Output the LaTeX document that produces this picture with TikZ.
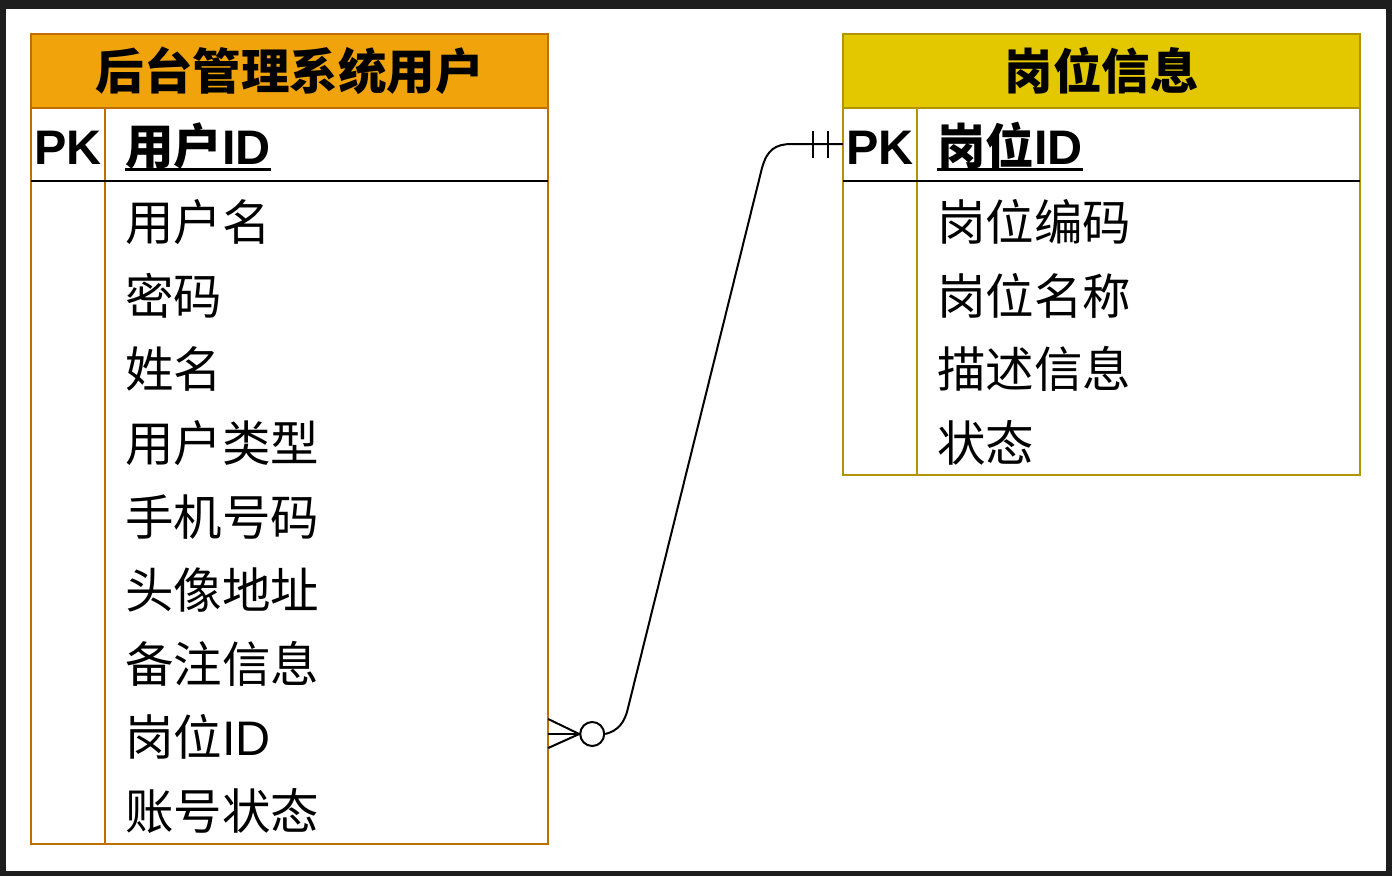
\documentclass[tikz,border=0pt]{standalone}
\usepackage{fontspec}
\setmainfont{Noto Sans CJK SC}
\newfontfamily\lat{Liberation Sans}
\usetikzlibrary{calc}
\definecolor{framec}{HTML}{1E1E1E}
\definecolor{orF}{HTML}{F0A30A}
\definecolor{orD}{HTML}{BD7000}
\definecolor{yeF}{HTML}{E3C800}
\definecolor{yeD}{HTML}{B09500}
\newcommand\myul[1]{\setbox0\hbox{#1}\rlap{\rule[-7pt]{\wd0}{3pt}}\box0}
\begin{document}
\begin{tikzpicture}[x=1pt,y=-1pt,
  hdr/.style={draw, line width=2pt, minimum width=517pt, minimum height=74pt, inner sep=0pt, font=\fontsize{48.5}{52}\selectfont\bfseries},
  body/.style={draw, line width=2pt, minimum width=517pt, inner sep=0pt},
  pk/.style={anchor=west, inner sep=0pt, font=\fontsize{48.5}{52}\selectfont\bfseries},
  fld/.style={anchor=west, inner sep=0pt, font=\fontsize{48.5}{52}\selectfont},
  rowbox/.style={minimum width=517pt, minimum height=73.6pt, inner sep=0pt},
  conn/.style={line width=2pt, black}]
\useasboundingbox (0,0) rectangle (1392,876);
\fill[framec] (0,0) rectangle (1392,876);
\fill[white] (6,9) rectangle (1386,871);
% left table
\node[hdr, fill=orF, draw=orD] (LH) at (289.5,71) {后台管理系统用户};
\node[body, draw=orD, minimum height=736pt] (LB) at (289.5,476) {};
\draw[orD, line width=2pt] (105,108) -- (105,844);
\draw[black, line width=2pt] (31,181) -- (548,181);
\node[pk, anchor=base west] (LPK) at (34,164) {\lat PK};
\node[pk, anchor=base west] (LF0) at (125,164) {\myul{用户{\lat ID}}};
\node[fld] (LF1) at (125,222) {用户名};
\node[fld] (LF2) at (125,296) {密码};
\node[fld] (LF3) at (125,369) {姓名};
\node[fld] (LF4) at (125,443) {用户类型};
\node[fld] (LF5) at (125,517) {手机号码};
\node[fld] (LF6) at (125,590) {头像地址};
\node[fld] (LF7) at (125,664) {备注信息};
\node[fld] (LF8) at (125,737) {岗位{\lat ID}};
\node[fld] (LF9) at (125,811) {账号状态};
\node[rowbox] (LR8) at (289.5,734) {};
% right table
\node[hdr, fill=yeF, draw=yeD] (RH) at (1101.5,71) {岗位信息};
\node[body, draw=yeD, minimum height=367pt] (RB) at (1101.5,291.5) {};
\draw[yeD, line width=2pt] (917,108) -- (917,475);
\draw[black, line width=2pt] (843,181) -- (1360,181);
\node[pk, anchor=base west] (RPK) at (846,164) {\lat PK};
\node[pk, anchor=base west] (RF0) at (937,164) {\myul{岗位{\lat ID}}};
\node[fld] (RF1) at (937,222) {岗位编码};
\node[fld] (RF2) at (937,296) {岗位名称};
\node[fld] (RF3) at (937,369) {描述信息};
\node[fld] (RF4) at (937,443) {状态};
\node[rowbox] (RR0) at (1101.5,144) {};
% connector
\coordinate (cf) at ($(LR8.east)+(31,0)$);
\node[draw, circle, conn, minimum size=24pt, inner sep=0pt] (circ) at ($(LR8.east)+(44,0)$) {};
\draw[conn] ($(LR8.east)+(0,-15)$) -- (cf) -- ($(LR8.east)+(0,14)$);
\draw[conn] (LR8.east) -- (circ.west);
\draw[conn] (circ.east) .. controls (618,731) and (625,722) .. (628,708)
  -- (762,168) .. controls (767,150) and (775,144) .. (792,144) -- (RR0.west);
\draw[conn] ($(RR0.west)+(-30,-13)$) -- ($(RR0.west)+(-30,14)$);
\draw[conn] ($(RR0.west)+(-15,-13)$) -- ($(RR0.west)+(-15,14)$);
\end{tikzpicture}
\end{document}
